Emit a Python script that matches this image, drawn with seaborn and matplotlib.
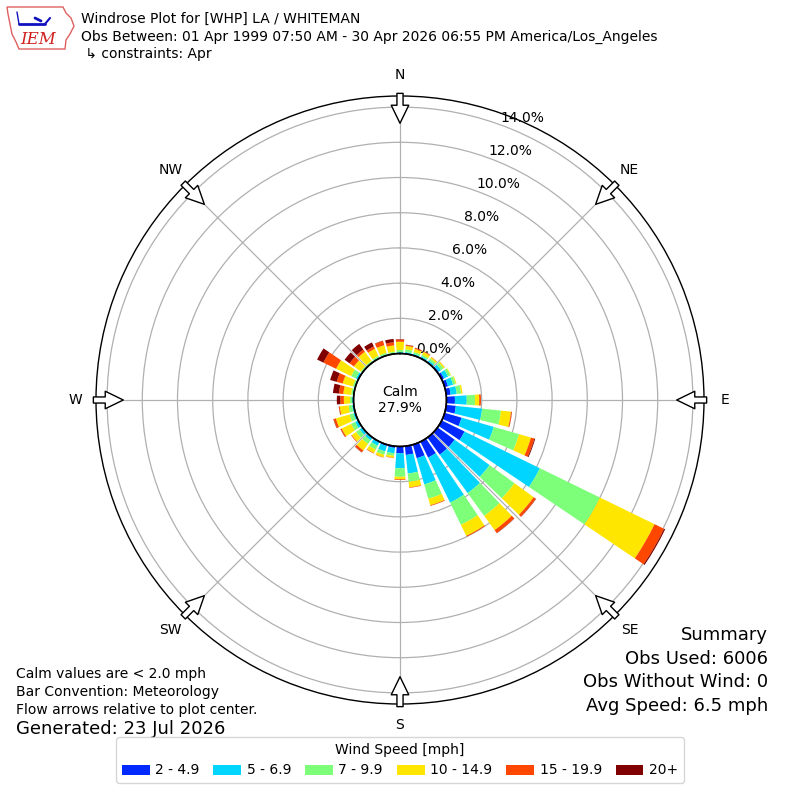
import numpy as np
import matplotlib
matplotlib.use("Agg")
import matplotlib.pyplot as plt
import seaborn as sns
from matplotlib.patches import Polygon

# wind directions (deg, meteorological) and speed classes
directions = list(range(0, 360, 10))
speed_labels = ["2 - 4.9", "5 - 6.9", "7 - 9.9", "10 - 14.9", "15 - 19.9", "20+"]

# percent of observations per direction, one list per speed class
spd_2_5 = [0.03, 0.03, 0.03, 0.05, 0.05, 0.08, 0.15, 0.20, 0.25, 0.48, 0.55, 1.00,
           1.44, 1.20, 1.20, 1.00, 0.80, 0.50, 0.39, 0.10, 0.08, 0.05, 0.05, 0.04,
           0.03, 0.03, 0.02, 0.02, 0.02, 0.02, 0.03, 0.02, 0.02, 0.02, 0.02, 0.02]
spd_5_7 = [0.05, 0.07, 0.07, 0.07, 0.10, 0.17, 0.25, 0.30, 0.35, 0.67, 1.50, 1.90,
           4.76, 2.45, 2.70, 2.85, 1.55, 1.06, 0.85, 0.30, 0.32, 0.20, 0.15, 0.16,
           0.17, 0.09, 0.08, 0.06, 0.04, 0.04, 0.12, 0.03, 0.03, 0.04, 0.04, 0.03]
spd_7_10 = [0.12, 0.15, 0.10, 0.10, 0.13, 0.17, 0.15, 0.15, 0.25, 0.47, 1.08, 1.50,
            3.80, 1.75, 1.60, 1.40, 0.85, 0.47, 0.48, 0.15, 0.20, 0.25, 0.25, 0.25,
            0.25, 0.23, 0.20, 0.12, 0.09, 0.09, 0.30, 0.07, 0.07, 0.09, 0.09, 0.07]
spd_10_15 = [0.47, 0.20, 0.18, 0.18, 0.09, 0.08, 0.04, 0.05, 0.08, 0.24, 0.57, 0.70,
             3.45, 1.35, 1.00, 0.70, 0.38, 0.32, 0.14, 0.11, 0.15, 0.22, 0.45, 0.30,
             0.60, 0.80, 0.50, 0.35, 0.45, 0.60, 0.95, 0.48, 0.63, 0.45, 0.45, 0.36]
spd_15_20 = [0.13, 0.05, 0.06, 0.04, 0.02, 0.01, 0.00, 0.00, 0.00, 0.10, 0.05, 0.20,
             0.60, 0.15, 0.20, 0.05, 0.04, 0.03, 0.04, 0.02, 0.02, 0.03, 0.13, 0.04,
             0.07, 0.13, 0.05, 0.20, 0.25, 0.35, 0.80, 0.30, 0.15, 0.15, 0.25, 0.18]
spd_20p = [0.02, 0.02, 0.01, 0.01, 0.00, 0.00, 0.00, 0.00, 0.00, 0.00, 0.01, 0.05,
           0.07, 0.02, 0.02, 0.00, 0.00, 0.00, 0.00, 0.00, 0.00, 0.00, 0.02, 0.00,
           0.01, 0.02, 0.01, 0.20, 0.34, 0.39, 0.40, 0.35, 0.40, 0.25, 0.02, 0.19]
speed_series = [spd_2_5, spd_5_7, spd_7_10, spd_10_15, spd_15_20, spd_20p]

calm_pct = 27.9
ring_ticks = [0, 2, 4, 6, 8, 10, 12, 14]
compass_labels = ["N", "NE", "E", "SE", "S", "SW", "W", "NW"]
compass_deg = [0, 45, 90, 135, 180, 225, 270, 315]

sns.set_style("white")
plt.rcParams['font.family'] = ['DejaVu Sans']
plt.rcParams['text.color'] = 'black'
plt.rcParams['xtick.color'] = 'black'
plt.rcParams['ytick.color'] = 'black'
plt.rcParams['axes.labelcolor'] = 'black'

colors = sns.color_palette(list(plt.get_cmap('jet')(np.linspace(0, 1, 7)[1:])))

fig = plt.figure(figsize=(8, 8), dpi=100)
ax = fig.add_axes([0.12, 0.12, 0.76, 0.76], projection='polar')
ax.set_theta_zero_location('N')
ax.set_theta_direction(-1)
ax.set_rorigin(-2.64)
ax.set_ylim(0, 14.63)
ax.set_axisbelow(True)

theta = np.radians(directions)
bottom = np.zeros(len(directions))
handles = []
for vals, col, lab in zip(speed_series, colors, speed_labels):
    vals = np.array(vals)
    b = ax.bar(theta, vals, width=np.radians(8), bottom=bottom, color=col,
               linewidth=0, label=lab)
    handles.append(b)
    bottom = bottom + vals

# grid and ring labels
ax.set_xticks(np.radians(compass_deg))
ax.set_xticklabels([])
ax.set_yticks(ring_ticks)
ax.set_yticklabels([f"{t:.1f}%" for t in ring_ticks], fontsize=10, color='black')
ax.set_rlabel_position(20)
ax.grid(True, color='#b0b0b0', lw=0.9)
for name, sp in ax.spines.items():
    sp.set_color('black')
    sp.set_linewidth(1.0)

# calm circle
circ = np.linspace(0, 2 * np.pi, 361)
ax.plot(circ, np.zeros_like(circ), color='black', lw=1.2, clip_on=False)

# flow arrows + compass labels
for deg, lab in zip(compass_deg, compass_labels):
    a = np.radians(deg)
    ax.annotate("", xy=(a, 13.08), xytext=(a, 14.78),
                arrowprops=dict(arrowstyle="simple,head_length=0.65,head_width=0.63,tail_width=0.22",
                                fc='white', ec='black', lw=1, shrinkA=0, shrinkB=0,
                                mutation_scale=20),
                annotation_clip=False)
    ax.text(a, 15.8, lab, ha='center', va='center', fontsize=10, clip_on=False)

fig.text(0.5, 0.5, f"Calm\n{calm_pct:.1f}%", ha='center', va='center', fontsize=10)

# header
fig.text(81 / 800, 1 - 19 / 800, "Windrose Plot for [WHP] LA / WHITEMAN", fontsize=10, va='center')
fig.text(81 / 800, 1 - 37 / 800,
         "Obs Between: 01 Apr 1999 07:50 AM - 30 Apr 2026 06:55 PM America/Los_Angeles",
         fontsize=10, va='center')
fig.text(81 / 800, 1 - 54 / 800, " \u21b3 constraints: Apr", fontsize=10, va='center')

# logo (rough)
lax = fig.add_axes([5 / 800, 1 - 52 / 800, 72 / 800, 48 / 800])
lax.set_xlim(0, 72)
lax.set_ylim(48, 0)
lax.axis('off')
iowa = [(2, 3), (58, 3), (61, 9), (66, 14), (69, 22), (65, 30), (61, 36), (60, 45),
        (14, 45), (11, 38), (7, 30), (5, 20), (3, 10)]
lax.add_patch(Polygon(iowa, closed=True, fill=False, ec='#e06060', lw=1))
lax.plot([14, 40], [20, 20], color='#1010c0', lw=2)
lax.plot([40, 45], [20, 14], color='#1010c0', lw=1.5)
lax.plot([30, 36], [14, 17], color='#1010c0', lw=2)
lax.plot([14, 12], [20, 8], color='#1010c0', lw=1)
lax.text(33, 36, "IEM", color='#d02020', fontsize=12, fontstyle='italic',
         family='DejaVu Serif', ha='center', va='center')

# footer notes
fig.text(16 / 800, 1 - 674 / 800, "Calm values are < 2.0 mph", fontsize=10, va='center')
fig.text(16 / 800, 1 - 692 / 800, "Bar Convention: Meteorology", fontsize=10, va='center')
fig.text(16 / 800, 1 - 710 / 800, "Flow arrows relative to plot center.", fontsize=10, va='center')
fig.text(16 / 800, 1 - 729 / 800, "Generated: 23 Jul 2026", fontsize=13, va='center')

fig.text(768 / 800, 1 - 635 / 800, "Summary", fontsize=13, va='center', ha='right')
fig.text(768 / 800, 1 - 659 / 800, "Obs Used: 6006", fontsize=13, va='center', ha='right')
fig.text(768 / 800, 1 - 682 / 800, "Obs Without Wind: 0", fontsize=13, va='center', ha='right')
fig.text(768 / 800, 1 - 706 / 800, "Avg Speed: 6.5 mph", fontsize=13, va='center', ha='right')

fig.legend(handles, speed_labels, ncol=6, loc='lower center', bbox_to_anchor=(0.5, 0.0125),
           title="Wind Speed [mph]", fontsize=10, title_fontsize=10, frameon=True,
           handletextpad=0.4, columnspacing=1.0)

fig.savefig("out.png", dpi=100)
